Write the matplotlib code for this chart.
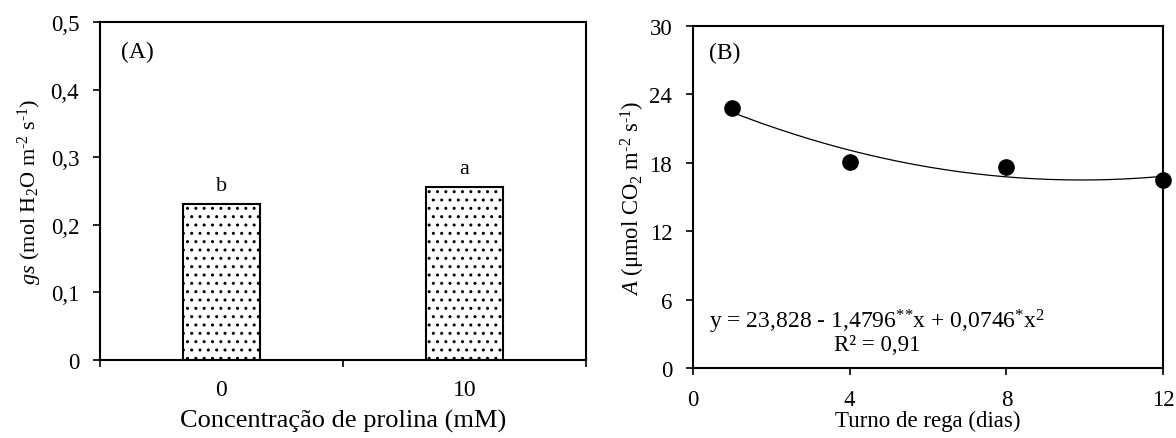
import numpy as np
import matplotlib
matplotlib.use("Agg")
import matplotlib.pyplot as plt

plt.rcParams['font.family'] = ['Liberation Serif', 'DejaVu Serif']
plt.rcParams['mathtext.fontset'] = 'custom'
plt.rcParams['mathtext.rm'] = 'Liberation Serif'
plt.rcParams['mathtext.it'] = 'Liberation Serif:italic'
plt.rcParams['hatch.linewidth'] = 1.0

# panel A - bar data
prolina = ["0", "10"]
gs_values = [0.231, 0.256]
gs_letters = ["b", "a"]
gs_ticks = [0, 0.1, 0.2, 0.3, 0.4, 0.5]
gs_ticklabels = ["0", "0,1", "0,2", "0,3", "0,4", "0,5"]

# panel B - scatter + quadratic fit
turno = [1, 4, 8, 12]
a_values = [22.8, 18.1, 17.6, 16.5]
fit_coef = [23.828, -1.4796, 0.0746]
a_ticks = [0, 6, 12, 18, 24, 30]
turno_ticks = [0, 4, 8, 12]

fig = plt.figure(figsize=(11.76, 4.39), dpi=100)
ax1 = fig.add_axes([0.0850, 0.1777, 0.4133, 0.770])
ax2 = fig.add_axes([0.5893, 0.1595, 0.3997, 0.779])

for ax in (ax1, ax2):
    for s in ax.spines.values():
        s.set_linewidth(1.5)

# --- A ---
pos = np.arange(len(prolina))
ax1.bar(pos, gs_values, width=0.313, color="white", edgecolor="black",
        linewidth=1.5, hatch="..", zorder=2)
for p, v, l in zip(pos, gs_values, gs_letters):
    ax1.text(p, v + 0.013, l, ha="center", va="bottom", fontsize=16)
ax1.set_xlim(-0.5, 1.5)
ax1.set_ylim(0, 0.5)
ax1.set_xticks([-0.5, 0.5, 1.5])
ax1.set_xticklabels([])
ax1.set_xticks(pos, minor=True)
ax1.set_xticklabels(prolina, minor=True, fontsize=17)
ax1.tick_params(axis="x", which="major", direction="out", length=5, width=1.2)
ax1.tick_params(axis="x", which="minor", length=0, pad=14)
ax1.set_yticks(gs_ticks)
ax1.set_yticklabels(gs_ticklabels, fontsize=16.5)
ax1.tick_params(axis="y", direction="out", length=5, width=1.2, pad=10)
ax1.set_xlabel("Concentração de prolina (mM)", fontsize=19, labelpad=6)
ax1.set_ylabel(r"$\mathit{gs}$ (mol H$_2$O m$^{\text{-}2}$ s$^{\text{-}1}$)", fontsize=16, labelpad=5)
ax1.text(0.078, 0.914, "(A)", transform=ax1.transAxes, ha="center", va="center", fontsize=17)

# --- B ---
ax2.plot(turno, a_values, "o", color="black", ms=11, zorder=3, clip_on=False)
xs = np.linspace(min(turno), max(turno), 200)
ax2.plot(xs, np.polyval(fit_coef[::-1], xs), color="black", lw=0.9)
ax2.set_xlim(0, 12)
ax2.set_ylim(0, 30)
ax2.set_xticks(turno_ticks)
ax2.set_yticks(a_ticks)
ax2.tick_params(axis="both", direction="out", length=5, width=1.2, labelsize=16.5, pad=10)
ax2.set_xlabel("Turno de rega (dias)", fontsize=16.5, labelpad=0)
ax2.set_ylabel(r"$\mathit{A}$ ($\mathregular{\mu}$mol CO$_2$ m$^{\text{-}2}$ s$^{\text{-}1}$)", fontsize=16.3, labelpad=2)
ax2.text(0.068, 0.924, "(B)", transform=ax2.transAxes, ha="center", va="center", fontsize=17)
ax2.text(0.41, 4.15, r"y = 23,828 - 1,4796$^{\text{**}}$x + 0,0746$^{\text{*}}$x$^{2}$",
         ha="left", va="center", fontsize=17)
ax2.text(3.59, 2.1, "R² = 0,91", ha="left", va="center", fontsize=16.5)

fig.savefig("out.png", dpi=100)
